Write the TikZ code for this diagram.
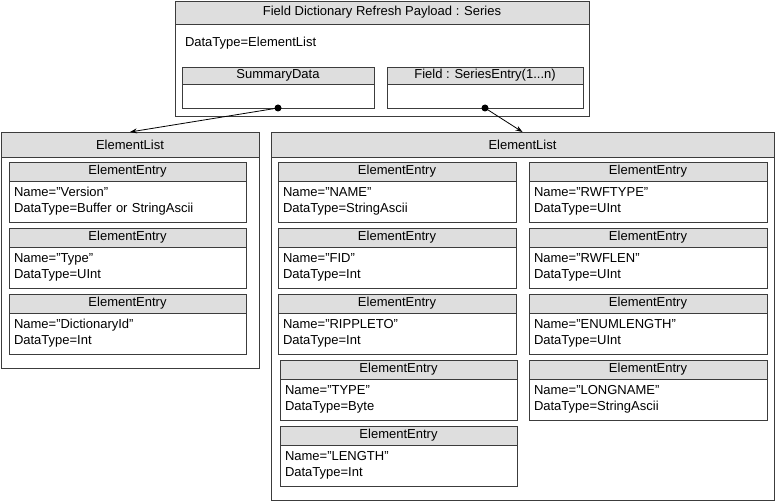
\documentclass[tikz,border=0pt]{standalone}
\usepackage{fontspec}
\setmainfont{Liberation Sans}
\usetikzlibrary{arrows.meta,positioning}
\definecolor{hdrgray}{RGB}{222,222,222}
\definecolor{linegray}{RGB}{60,60,60}

\begin{document}
\begin{tikzpicture}[x=1pt,y=-1pt,line width=0.8pt,
    every node/.style={font=\fontsize{13}{16}\selectfont,inner sep=0pt,outer sep=0pt},
    hdr/.style={draw=linegray,fill=hdrgray,anchor=north west,minimum height=19pt},
    body/.style={draw=linegray,fill=white,anchor=north west,minimum height=41pt,align=left,inner xsep=5pt},
    link/.style={draw=black,-{Stealth[length=7pt,width=5pt]}}]
      \useasboundingbox (0,0) rectangle (775,502);
      % payload
      \node[hdr,minimum width=414pt,minimum height=23pt] (plh) at (175,1) {Field Dictionary Refresh Payload : Series};
      \node[body,minimum width=414pt,minimum height=92pt] (plb) at (plh.south west) {};
      \node[anchor=west] (pldt) at (185,43) {DataType=ElementList};
      \node[hdr,minimum width=192pt,minimum height=17pt] (sumh) at (182,67) {SummaryData};
      \node[body,minimum width=192pt,minimum height=24pt] (sumb) at (sumh.south west) {};
      \node[hdr,minimum width=196pt,minimum height=17pt] (fldh) at (387,67) {Field : SeriesEntry(1...n)};
      \node[body,minimum width=196pt,minimum height=24pt] (fldb) at (fldh.south west) {};
      % summary element list
      \node[hdr,minimum width=258pt,minimum height=25pt] (sl) at (1,132) {ElementList};
      \node[body,minimum width=258pt,minimum height=211pt] (slb) at (sl.south west) {};
      \node[hdr,minimum width=237pt] (s1h) at (9,162) {ElementEntry};
      \node[body,text width=227pt] (s1b) at (s1h.south west) {Name=”Version”\\DataType=Buffer or StringAscii};
      \node[hdr,minimum width=237pt] (s2h) at (9,228) {ElementEntry};
      \node[body,text width=227pt] (s2b) at (s2h.south west) {Name=”Type”\\DataType=UInt};
      \node[hdr,minimum width=237pt] (s3h) at (9,294) {ElementEntry};
      \node[body,text width=227pt] (s3b) at (s3h.south west) {Name=”DictionaryId”\\DataType=Int};
      % series entry element list
      \node[hdr,minimum width=503pt,minimum height=25pt] (fl) at (271,132) {ElementList};
      \node[body,minimum width=503pt,minimum height=343pt] (flb) at (fl.south west) {};
      \node[hdr,minimum width=238pt] (f1h) at (278,162) {ElementEntry};
      \node[body,text width=228pt] (f1b) at (f1h.south west) {Name=”NAME”\\DataType=StringAscii};
      \node[hdr,minimum width=238pt] (f2h) at (278,228) {ElementEntry};
      \node[body,text width=228pt] (f2b) at (f2h.south west) {Name=”FID”\\DataType=Int};
      \node[hdr,minimum width=238pt] (f3h) at (278,294) {ElementEntry};
      \node[body,text width=228pt] (f3b) at (f3h.south west) {Name=”RIPPLETO”\\DataType=Int};
      \node[hdr,minimum width=237pt] (f4h) at (280,360) {ElementEntry};
      \node[body,text width=227pt] (f4b) at (f4h.south west) {Name=”TYPE”\\DataType=Byte};
      \node[hdr,minimum width=237pt] (f5h) at (280,426) {ElementEntry};
      \node[body,text width=227pt] (f5b) at (f5h.south west) {Name=”LENGTH”\\DataType=Int};
      \node[hdr,minimum width=238pt] (f6h) at (529,162) {ElementEntry};
      \node[body,text width=228pt] (f6b) at (f6h.south west) {Name=”RWFTYPE”\\DataType=UInt};
      \node[hdr,minimum width=238pt] (f7h) at (529,228) {ElementEntry};
      \node[body,text width=228pt] (f7b) at (f7h.south west) {Name=”RWFLEN”\\DataType=UInt};
      \node[hdr,minimum width=238pt] (f8h) at (529,294) {ElementEntry};
      \node[body,text width=228pt] (f8b) at (f8h.south west) {Name=”ENUMLENGTH”\\DataType=UInt};
      \node[hdr,minimum width=238pt] (f9h) at (529,360) {ElementEntry};
      \node[body,text width=228pt] (f9b) at (f9h.south west) {Name=”LONGNAME”\\DataType=StringAscii};
      % links
      \fill (sumb.south) circle (3.5pt);
      \fill (fldb.south) circle (3.5pt);
      \draw[link] (sumb.south) -- (sl.north);
      \draw[link] (fldb.south) -- (fl.north);
    \end{tikzpicture}
\end{document}
